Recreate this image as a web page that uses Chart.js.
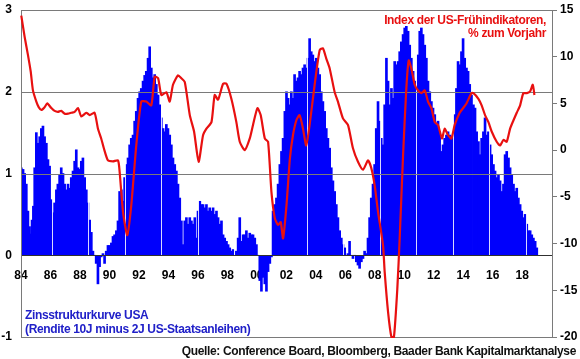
<!DOCTYPE html>
<html>
<head>
<meta charset="utf-8">
<script src="https://cdn.jsdelivr.net/npm/chart.js@4/dist/chart.umd.min.js"></script>
<style>
html,body{margin:0;padding:0;background:#fff;}
#wrap{width:580px;height:359px;position:relative;}
</style>
</head>
<body>
<div id="wrap"><canvas id="c" width="580" height="359"></canvas></div>
<script>
// Yield curve spread USA (10Y minus 2Y), left axis
const spreadYears = [
1984.02,1984.14,1984.25,1984.36,1984.47,1984.58,1984.66,1984.75,1984.84,1984.93,
1985.04,1985.15,1985.27,1985.38,1985.49,1985.60,1985.72,1985.83,1985.94,1986.06,
1986.17,1986.28,1986.40,1986.50,1986.62,1986.73,1986.85,1986.96,1987.07,1987.19,
1987.30,1987.41,1987.53,1987.64,1987.75,1987.87,1987.98,1988.09,1988.20,1988.32,
1988.43,1988.54,1988.66,1988.77,1988.88,1988.99,1989.10,1989.22,1989.33,1989.44,
1989.56,1989.67,1989.78,1989.90,1990.01,1990.13,1990.24,1990.35,1990.47,1990.58,
1990.69,1990.81,1990.92,1991.03,1991.15,1991.26,1991.37,1991.48,1991.60,1991.71,
1991.82,1991.94,1992.05,1992.16,1992.28,1992.39,1992.50,1992.62,1992.73,1992.84,
1992.96,1993.07,1993.18,1993.30,1993.41,1993.52,1993.64,1993.75,1993.86,1993.97,
1994.09,1994.20,1994.31,1994.43,1994.54,1994.65,1994.77,1994.88,1994.99,1995.11,
1995.22,1995.33,1995.45,1995.56,1995.67,1995.79,1995.90,1996.01,1996.13,1996.24,
1996.35,1996.46,1996.58,1996.69,1996.80,1996.92,1997.03,1997.14,1997.26,1997.37,
1997.48,1997.60,1997.71,1997.82,1997.94,1998.05,1998.16,1998.27,1998.39,1998.50,
1998.61,1998.73,1998.84,1998.95,1999.07,1999.18,1999.29,1999.40,1999.52,1999.63,
1999.74,1999.86,1999.97,2000.08,2000.20,2000.31,2000.42,2000.54,2000.65,2000.76,
2000.88,2000.99,2001.10,2001.22,2001.33,2001.44,2001.56,2001.67,2001.78,2001.90,
2002.01,2002.12,2002.24,2002.34,2002.45,2002.56,2002.67,2002.79,2002.90,2003.01,
2003.13,2003.24,2003.35,2003.47,2003.58,2003.69,2003.80,2003.92,2004.03,2004.14,
2004.26,2004.37,2004.48,2004.60,2004.71,2004.82,2004.94,2005.05,2005.16,2005.28,
2005.39,2005.50,2005.62,2005.73,2005.84,2005.96,2006.07,2006.18,2006.29,2006.41,
2006.52,2006.63,2006.75,2006.86,2006.97,2007.09,2007.20,2007.31,2007.42,2007.54,
2007.65,2007.76,2007.88,2007.99,2008.10,2008.22,2008.33,2008.44,2008.56,2008.67,
2008.79,2008.90,2009.01,2009.13,2009.24,2009.35,2009.46,2009.58,2009.69,2009.80,
2009.92,2010.03,2010.14,2010.26,2010.37,2010.48,2010.60,2010.71,2010.82,2010.93,
2011.05,2011.16,2011.27,2011.39,2011.50,2011.61,2011.73,2011.84,2011.95,2012.07,
2012.18,2012.29,2012.40,2012.52,2012.63,2012.74,2012.86,2012.97,2013.08,2013.20,
2013.31,2013.42,2013.54,2013.65,2013.76,2013.88,2013.99,2014.10,2014.22,2014.33,
2014.44,2014.56,2014.69,2014.80,2014.91,2015.03,2015.14,2015.25,2015.37,2015.48,
2015.60,2015.71,2015.82,2015.93,2016.05,2016.16,2016.27,2016.39,2016.50,2016.61,
2016.73,2016.84,2016.95,2017.07,2017.18,2017.29,2017.41,2017.52,2017.63,2017.74,
2017.86,2017.97,2018.08,2018.20,2018.31,2018.42,2018.54,2018.65,2018.76,2018.88,
2018.99
];
const spreadValues = [
1.07,1.05,1.00,0.87,0.54,0.35,0.26,0.43,0.60,1.07,
1.50,1.37,1.45,1.55,1.58,1.45,1.37,1.17,1.09,0.68,
0.52,0.64,0.80,0.87,0.99,1.07,1.00,0.87,0.80,0.87,
0.82,0.95,1.03,1.15,1.29,1.07,1.05,1.15,1.19,0.95,
0.80,0.64,0.43,0.28,0.05,0.00,-0.10,-0.35,-0.14,-0.02,
0.02,-0.10,0.05,0.12,0.12,0.15,0.23,0.25,0.30,0.42,
0.78,0.80,0.66,0.95,1.11,1.19,1.35,1.43,1.47,1.64,
1.76,1.92,2.00,2.04,2.13,2.20,2.25,2.41,2.55,2.29,
2.17,2.21,2.09,1.96,1.84,1.68,1.55,1.51,1.60,1.55,
1.47,1.35,1.19,1.11,1.03,0.87,0.70,0.42,0.13,0.42,
0.46,0.38,0.46,0.42,0.38,0.46,0.21,0.54,0.66,0.62,
0.62,0.58,0.62,0.54,0.58,0.54,0.58,0.50,0.54,0.46,
0.38,0.42,0.25,0.21,0.17,0.13,0.09,0.05,0.07,0.00,
0.05,0.21,0.46,0.17,0.25,0.25,0.30,0.21,0.27,0.25,
0.25,0.21,0.13,0.00,-0.31,-0.44,-0.27,-0.35,-0.44,-0.20,
-0.10,-0.02,0.54,0.62,0.70,0.87,1.11,1.27,1.43,1.76,
2.00,1.92,1.84,2.00,1.92,2.21,2.13,2.17,2.25,2.21,
2.29,2.33,2.29,2.41,2.65,2.49,2.45,2.37,2.41,2.29,
2.21,2.00,1.88,1.76,1.55,1.43,1.31,1.07,0.91,0.78,
0.62,0.46,0.30,0.21,0.13,0.09,0.00,0.02,0.17,0.00,
-0.04,0.00,-0.08,-0.12,-0.16,-0.08,-0.04,0.05,0.02,0.21,
0.46,0.70,0.87,1.11,1.55,1.88,1.64,1.43,1.35,1.84,
2.41,2.13,1.84,2.04,1.92,2.37,2.33,2.37,2.49,2.61,
2.70,2.78,2.80,2.74,2.57,2.41,2.25,2.13,2.04,2.45,
2.74,2.78,2.70,2.57,2.41,2.13,2.00,1.88,1.80,1.72,
1.60,1.64,1.51,1.27,1.35,1.43,1.47,1.51,1.47,1.43,
1.47,1.72,2.04,2.37,2.33,2.49,2.65,2.41,2.29,2.25,
2.09,1.96,1.84,1.80,1.51,1.39,1.23,1.43,1.51,1.68,
1.47,1.51,1.35,1.23,1.11,1.03,0.95,0.99,0.91,0.78,
0.87,1.23,1.27,1.19,1.07,0.99,0.87,0.78,0.82,0.70,
0.62,0.54,0.46,0.50,0.38,0.30,0.30,0.25,0.21,0.17,
0.09
];
// Conference Board leading index, % y/y, right axis
const leiYears = [
1984.02,1984.25,1984.47,1984.66,1984.81,1985.04,1985.20,1985.38,1985.60,1985.78,
1986.06,1986.28,1986.50,1986.73,1986.96,1987.19,1987.41,1987.64,1987.87,1988.09,
1988.43,1988.66,1988.99,1989.22,1989.44,1989.62,1989.90,1990.24,1990.58,1990.69,
1990.92,1991.21,1991.48,1991.82,1992.16,1992.50,1992.84,1993.07,1993.30,1993.52,
1993.86,1994.09,1994.31,1994.65,1994.88,1995.11,1995.45,1995.74,1996.05,1996.35,
1996.58,1996.92,1997.14,1997.37,1997.71,1997.94,1998.27,1998.61,1998.84,1999.18,
1999.52,1999.74,2000.04,2000.26,2000.54,2000.76,2000.99,2001.22,2001.44,2001.62,
2001.78,2002.01,2002.24,2002.45,2002.68,2002.90,2003.13,2003.35,2003.58,2003.92,
2004.26,2004.48,2004.71,2004.94,2005.28,2005.50,2005.84,2006.18,2006.52,2006.86,
2007.20,2007.54,2007.76,2007.99,2008.22,2008.56,2008.67,2008.90,2009.13,2009.30,
2009.53,2009.69,2009.92,2010.14,2010.30,2010.48,2010.71,2010.93,2011.16,2011.39,
2011.61,2011.84,2012.07,2012.29,2012.56,2012.74,2012.97,2013.20,2013.42,2013.76,
2013.99,2014.22,2014.56,2014.69,2015.03,2015.25,2015.48,2015.71,2015.93,2016.27,
2016.50,2016.73,2016.95,2017.18,2017.41,2017.63,2017.86,2018.08,2018.31,2018.54,
2018.72,2018.83
];
const leiValues = [
14.4,12.1,10.2,8.4,6.4,5.2,4.6,4.3,4.6,5.0,
4.5,4.2,4.1,4.2,3.9,3.9,4.0,4.1,4.5,3.6,
4.0,3.75,4.0,2.3,1.25,0.2,-1.1,-1.2,-1.1,-2.3,
-6.6,-9.1,-5.9,0.5,5.2,5.2,4.8,7.85,7.7,5.9,
6.2,5.2,7.0,8.0,7.7,7.3,3.75,2.0,-1.25,1.6,
2.3,3.0,5.9,5.4,7.1,7.1,5.5,3.0,0.9,0.0,
1.25,2.7,4.5,3.75,1.25,0.9,-4.5,-7.3,-8.0,-7.7,
-9.45,-5.9,-0.9,1.6,3.2,3.75,2.3,0.5,2.7,7.0,
10.7,10.9,9.8,8.75,6.2,5.2,3.4,2.7,0.2,-1.25,
-2.1,-1.1,-1.9,-3.75,-6.6,-10.2,-13.0,-17.3,-20.0,-20.0,
-14.8,-9.4,-0.5,6.6,9.6,8.75,7.0,6.4,6.1,6.4,
5.2,4.5,3.0,2.7,1.25,2.3,1.6,1.25,2.7,4.0,
4.5,5.0,6.1,6.1,5.5,4.8,3.75,3.0,2.0,0.9,
0.5,1.1,0.9,2.3,3.2,4.0,4.8,6.1,6.1,6.3,
7.0,5.9
];
const xTickYears = [1984,1986,1988,1990,1992,1994,1996,1998,2000,2002,2004,2006,2008,2010,2012,2014,2016,2018];
const separatorYears = [1986.08,1988.55,1991.03,1993.5,1995.98,1998.45,2000.92,2003.4,2005.87,2008.35,2010.82,2013.29,2015.77,2018.24];
const leftTicks = [-1,0,1,2,3];
const rightTicks = [-20,-15,-10,-5,0,5,10,15];

const FONT = '"Liberation Sans", Arial, sans-serif';
const RED = 'rgb(232,16,16)';
const BLUE = 'rgb(0,0,252)';
const TEXTBLUE = 'rgb(32,32,200)';
const GRID = '#7a7a7a';

const zeroPad = s => { s.paddingLeft = 0; s.paddingRight = 0; s.paddingTop = 0; s.paddingBottom = 0; };

const overlay = {
  id: 'overlay',
  afterDatasetDraw(chart, args) {
    if (args.index !== 0) return;
    const {ctx, chartArea: a, scales: {x, y}} = chart;
    const y0 = y.getPixelForValue(0);
    ctx.save();
    ctx.lineWidth = 1;
    ctx.strokeStyle = 'rgba(255,255,255,0.85)';
    separatorYears.forEach(v => {
      const px = Math.round(x.getPixelForValue(v)) + 0.5;
      ctx.beginPath(); ctx.moveTo(px, a.top); ctx.lineTo(px, y0); ctx.stroke();
    });
    leftTicks.forEach(v => {
      const py = Math.round(y.getPixelForValue(v)) + 0.5;
      ctx.strokeStyle = v === 0 ? '#303030' : GRID;
      ctx.beginPath(); ctx.moveTo(a.left, py); ctx.lineTo(a.right, py); ctx.stroke();
    });
    ctx.strokeStyle = GRID;
    const L = Math.round(a.left) + 0.5, R = Math.round(a.right) - 0.5;
    ctx.beginPath(); ctx.moveTo(L, a.top); ctx.lineTo(L, a.bottom); ctx.stroke();
    ctx.beginPath(); ctx.moveTo(R, a.top); ctx.lineTo(R, a.bottom); ctx.stroke();
    ctx.restore();
  },
  afterDraw(chart) {
    const {ctx} = chart;
    ctx.save();
    try { ctx.letterSpacing = '-0.35px'; } catch (e) {}
    ctx.font = 'bold 12px ' + FONT;
    ctx.textBaseline = 'alphabetic';
    ctx.fillStyle = RED;
    ctx.textAlign = 'right';
    ctx.fillText('Index der US-Frühindikatoren,', 546, 24);
    ctx.fillText('% zum Vorjahr', 546, 37);
    ctx.fillStyle = TEXTBLUE;
    ctx.textAlign = 'left';
    ctx.fillText('Zinsstrukturkurve USA', 25, 319);
    ctx.fillText('(Rendite 10J minus 2J US-Staatsanleihen)', 25, 333);
    ctx.fillStyle = '#111';
    ctx.textAlign = 'right';
    ctx.fillText('Quelle: Conference Board, Bloomberg, Baader Bank Kapitalmarktanalyse', 576, 355);
    ctx.restore();
  }
};

const tickFont = {family: FONT, size: 12, weight: 'bold'};

new Chart(document.getElementById('c'), {
  type: 'bar',
  data: {
    datasets: [
      {
        type: 'bar',
        data: spreadYears.map((v, i) => ({x: v, y: spreadValues[i]})),
        backgroundColor: BLUE,
        borderWidth: 0,
        barThickness: 2,
        xAxisID: 'x', yAxisID: 'y',
        order: 2
      },
      {
        type: 'line',
        data: leiYears.map((v, i) => ({x: v, y: leiValues[i]})),
        borderColor: RED,
        borderWidth: 2.2,
        pointRadius: 0,
        tension: 0.2,
        fill: false,
        clip: 3,
        xAxisID: 'x', yAxisID: 'y2',
        order: 1
      }
    ]
  },
  options: {
    responsive: false,
    animation: false,
    events: [],
    layout: {padding: {top: 10, left: 0, right: 0, bottom: 22}},
    plugins: {legend: {display: false}, tooltip: {enabled: false}},
    scales: {
      x: {
        type: 'linear',
        offset: false,
        min: 1984, max: 2020.09,
        position: {y: 0},
        grid: {display: false, offset: false},
        border: {display: false},
        ticks: {
          font: tickFont, color: '#000', padding: 5, maxRotation: 0, autoSkip: false,
          callback: v => String(v).slice(2)
        },
        afterBuildTicks: s => { s.ticks = xTickYears.map(v => ({value: v})); },
        afterFit: s => { s.height = 22; zeroPad(s); }
      },
      y: {
        position: 'left',
        min: -1, max: 3,
        grid: {drawOnChartArea: false, drawTicks: false},
        border: {display: false},
        ticks: {font: tickFont, color: '#000', padding: 9, stepSize: 1},
        afterBuildTicks: s => { s.ticks = leftTicks.map(v => ({value: v})); },
        afterFit: s => { s.width = 21; zeroPad(s); }
      },
      y2: {
        position: 'right',
        min: -20, max: 15,
        grid: {drawOnChartArea: false, drawTicks: true, tickLength: 4, color: GRID},
        border: {display: false},
        ticks: {font: tickFont, color: '#000', padding: 3, stepSize: 5},
        afterBuildTicks: s => { s.ticks = rightTicks.map(v => ({value: v})); },
        afterFit: s => { s.width = 27; zeroPad(s); }
      }
    }
  },
  plugins: [overlay]
});
</script>
</body>
</html>
